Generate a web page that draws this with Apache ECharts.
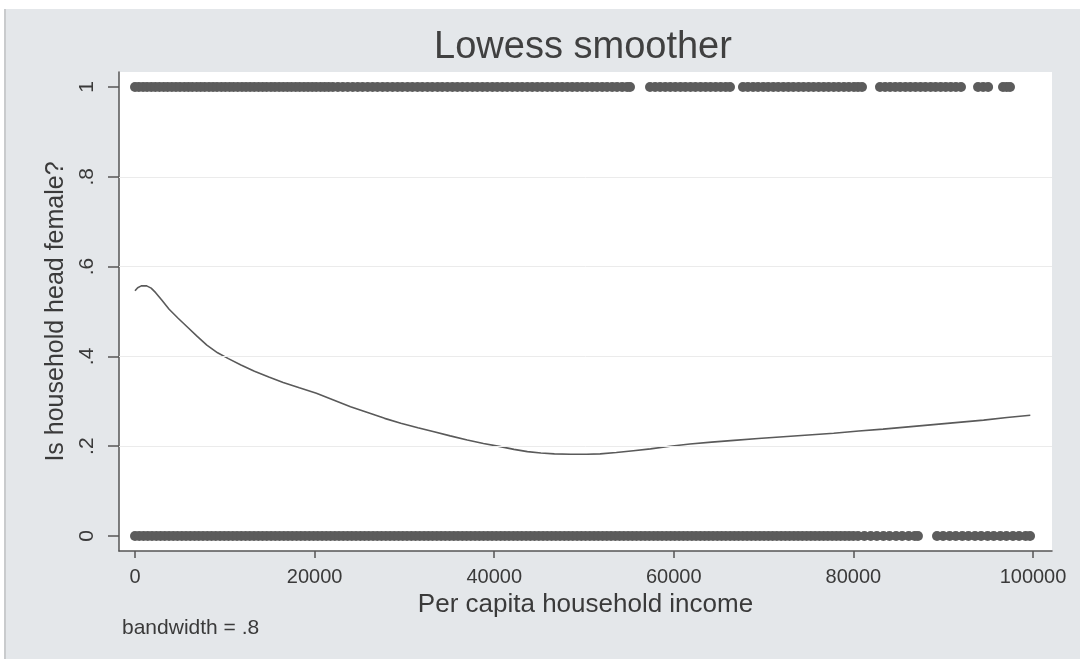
<!DOCTYPE html>
<html>
<head>
<meta charset="utf-8">
<title>Lowess smoother</title>
<script src="https://cdn.jsdelivr.net/npm/echarts@6.0.0/dist/echarts.min.js"></script>
<style>
  html, body { margin: 0; padding: 0; background: #ffffff; }
  #frame {
    position: absolute; left: 4px; top: 9px;
    width: 1076px; height: 650px;
    border-left: 2px solid #c9cbcd;
    box-sizing: border-box;
  }
  #chart { position: absolute; left: 0; top: 0; width: 1074px; height: 650px; }
</style>
</head>
<body>
<div id="frame"><div id="chart"></div></div>
<script>
// Per capita household income of households whose head is female (1)
const femaleHeadIncome = [
  0, 430, 900, 1340, 1810, 2260, 2720, 3190, 3630, 4100, 4560, 5010, 5490, 5940, 6380, 6870,
  7310, 7760, 8240, 8690, 9130, 9610, 10060, 10530, 10970, 11440, 11910, 12360, 12820, 13280,
  13750, 14210, 14660, 15140, 15580, 16050, 16510, 16970, 17420, 17890, 18340, 18810, 19270,
  19730, 20180, 20660, 21110, 21560, 22030, 22590, 23140, 23690, 24250, 24800, 25340, 25910,
  26460, 27000, 27570, 28110, 28680, 29240, 29770, 30350, 30890, 31460, 32000, 32570, 33110,
  33690, 34220, 34790, 35350, 35900, 36460, 37010, 37580, 38120, 38690, 39230, 39800, 40340,
  40910, 41450, 42020, 42580, 43120, 43690, 44240, 44800, 45350, 45920, 46460, 47030, 47570,
  48140, 48690, 49240, 49800, 50350, 50920, 51460, 52030, 52570, 53140, 53680, 54250, 54800,
  55120, 57350, 57920, 58480, 59050, 59610, 60170, 60740, 61290, 61860, 62410, 62980, 63540,
  64090, 64660, 65220, 65780, 66260, 67700, 68250, 68830, 69380, 69960, 70510, 71080, 71630,
  72200, 72760, 73310, 73890, 74440, 75010, 75560, 76130, 76690, 77240, 77810, 78360, 78940,
  79490, 80060, 80510, 80960, 82960, 83530, 84090, 84660, 85210, 85790, 86340, 86910, 87470,
  88020, 88600, 89150, 89720, 90280, 90840, 91410, 91980, 93880, 94450, 95000, 96660, 97070,
  97440
];

// Per capita household income of households whose head is male (0)
const maleHeadIncome = [
  0, 470, 950, 1420, 1890, 2370, 2840, 3310, 3790, 4260, 4730, 5210, 5680, 6150, 6630, 7100,
  7570, 8050, 8520, 8990, 9470, 9940, 10410, 10890, 11360, 11830, 12310, 12780, 13250, 13730,
  14200, 14670, 15150, 15620, 16090, 16570, 17040, 17510, 17990, 18460, 18930, 19410, 19880,
  20350, 20830, 21300, 21770, 22250, 22720, 23190, 23670, 24140, 24610, 25090, 25560, 26030,
  26510, 26980, 27450, 27930, 28400, 28870, 29350, 29820, 30290, 30770, 31240, 31710, 32190,
  32660, 33130, 33610, 34080, 34550, 35030, 35500, 35970, 36450, 36920, 37390, 37870, 38340,
  38810, 39290, 39760, 40230, 40710, 41180, 41650, 42130, 42600, 43070, 43550, 44020, 44490,
  44970, 45440, 45910, 46390, 46860, 47330, 47810, 48280, 48750, 49230, 49700, 50170, 50650,
  51120, 51590, 52070, 52540, 53010, 53490, 53960, 54430, 54910, 55380, 55850, 56330, 56800,
  57270, 57750, 58220, 58690, 59170, 59640, 60110, 60590, 61060, 61530, 62010, 62480, 62950,
  63430, 63900, 64370, 64850, 65320, 65790, 66270, 66740, 67210, 67690, 68160, 68630, 69110,
  69580, 70050, 70530, 71000, 71470, 71950, 72420, 72890, 73370, 73840, 74310, 74790, 75260,
  75730, 76210, 76680, 77150, 77630, 78100, 78570, 79050, 79520, 79990, 80510, 81220, 81930,
  82610, 83340, 84020, 84750, 85430, 86160, 86840, 87190, 89310, 89990, 90720, 91400, 92130,
  92810, 93540, 94220, 94950, 95630, 96360, 97040, 97770, 98450, 99180, 99670
];

// Lowess fit (bandwidth .8): income and fitted share of female heads
const lowessIncome = [
  0, 300, 700, 1300, 1800, 2300, 3000, 3800, 4800, 5800, 6900, 8000, 9200, 10400, 11800,
  13300, 14900, 16500, 18300, 20200, 22100, 24000, 25900, 27800, 29600, 31500, 33300, 35100,
  37000, 38800, 40700, 42200, 43700, 45200, 46700, 48500, 50300, 51800, 53600, 55500, 57400,
  59600, 61800, 64200, 66700, 69400, 72200, 75000, 77800, 80600, 83300, 86100, 88900, 91700,
  94500, 97100, 99700
];
const lowessFit = [
  0.546, 0.553, 0.557, 0.557, 0.552, 0.542, 0.525, 0.505, 0.485, 0.466, 0.445, 0.425, 0.408,
  0.395, 0.381, 0.367, 0.354, 0.342, 0.330, 0.318, 0.303, 0.288, 0.275, 0.262, 0.251, 0.241,
  0.232, 0.223, 0.214, 0.206, 0.199, 0.193, 0.188, 0.185, 0.183, 0.182, 0.182, 0.183, 0.186,
  0.190, 0.194, 0.200, 0.205, 0.209, 0.213, 0.217, 0.221, 0.225, 0.229, 0.234, 0.238, 0.243,
  0.248, 0.253, 0.258, 0.264, 0.269
];

// Axis ticks
const xTicks = [0, 20000, 40000, 60000, 80000, 100000];
const yTicks = [0, 0.2, 0.4, 0.6, 0.8, 1];
const yGridLines = [0.2, 0.4, 0.6, 0.8];

const FONT = '"Liberation Sans", Arial, sans-serif';
const TEXT = '#3a3a3a';
const MARK = '#5c5c5c';

const chart = echarts.init(document.getElementById('chart'), null, { renderer: 'canvas' });

chart.setOption({
  backgroundColor: '#e4e7ea',
  animation: false,
  graphic: [
    {
      type: 'text', x: 577, y: 39,
      style: {
        text: 'Lowess smoother', align: 'center', verticalAlign: 'middle',
        font: '38px ' + FONT, fill: '#404040'
      }
    },
    {
      type: 'text', x: 116, y: 619,
      style: {
        text: 'bandwidth = .8', verticalAlign: 'middle',
        font: '21px ' + FONT, fill: TEXT
      }
    }
  ],
  grid: {
    left: 113, top: 63, width: 933, height: 479,
    show: true, backgroundColor: '#ffffff', borderWidth: 0
  },
  xAxis: {
    type: 'value', min: -1782, max: 102116,
    name: 'Per capita household income',
    nameLocation: 'middle', nameGap: 33,
    nameTextStyle: { fontFamily: FONT, fontSize: 26, color: TEXT },
    axisLine: { show: true, onZero: false, lineStyle: { color: '#555', width: 1.5 } },
    axisTick: { show: true, customValues: xTicks, length: 7, lineStyle: { color: '#555', width: 1.5 } },
    axisLabel: {
      customValues: xTicks, margin: 16,
      fontFamily: FONT, fontSize: 20, color: TEXT,
      formatter: v => String(v)
    },
    splitLine: { show: false }
  },
  yAxis: {
    type: 'value', min: -0.0334, max: 1.0334,
    name: 'Is household head female?',
    nameLocation: 'middle', nameGap: 46, nameRotate: 90,
    nameTextStyle: { fontFamily: FONT, fontSize: 25, color: TEXT },
    axisLine: { show: true, onZero: false, lineStyle: { color: '#555', width: 1.5 } },
    axisTick: { show: true, customValues: yTicks, length: 11, lineStyle: { color: '#555', width: 1.5 } },
    axisLabel: {
      customValues: yTicks, rotate: 90, margin: 21,
      fontFamily: FONT, fontSize: 21, color: TEXT,
      formatter: v => (v === 0 ? '0' : v === 1 ? '1' : String(+v.toFixed(1)).replace(/^0/, ''))
    },
    splitLine: { show: false }
  },
  series: [
    {
      // light horizontal grid lines
      type: 'scatter', data: [], silent: true, z: 1,
      markLine: {
        silent: true, symbol: 'none', animation: false,
        label: { show: false },
        lineStyle: { color: '#ebebeb', width: 1, type: 'solid' },
        data: yGridLines.map(v => ({ yAxis: v }))
      }
    },
    {
      name: 'female head', type: 'scatter', z: 2,
      symbol: 'circle', symbolSize: 10,
      itemStyle: { color: MARK, opacity: 1 },
      data: femaleHeadIncome.map(x => [x, 1])
    },
    {
      name: 'male head', type: 'scatter', z: 2,
      symbol: 'circle', symbolSize: 10,
      itemStyle: { color: MARK, opacity: 1 },
      data: maleHeadIncome.map(x => [x, 0])
    },
    {
      name: 'lowess', type: 'line', z: 3,
      showSymbol: false, smooth: false,
      lineStyle: { color: '#5a5a5a', width: 1.6 },
      data: lowessIncome.map((x, i) => [x, lowessFit[i]])
    }
  ]
});
</script>
</body>
</html>
